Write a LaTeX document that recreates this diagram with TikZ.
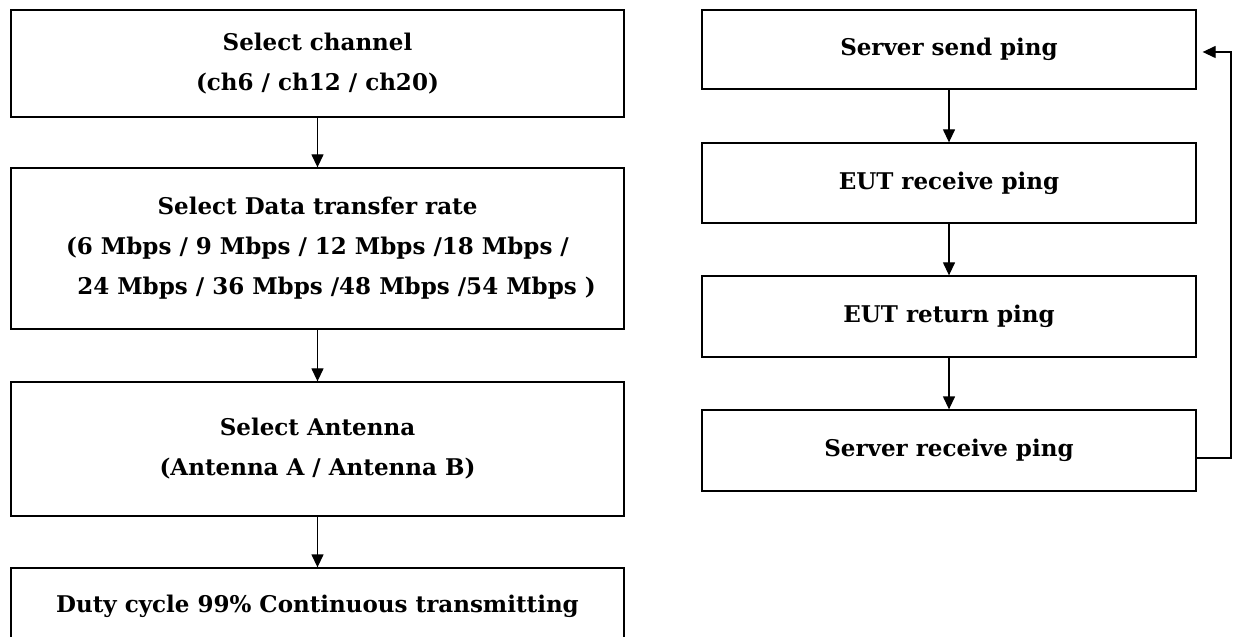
\documentclass[tikz,border=0pt]{standalone}
\usepackage{fontspec}
\setmainfont{DejaVu Serif}
\usetikzlibrary{arrows.meta,calc}
\begin{document}
\begin{tikzpicture}[x=1bp,y=-1bp,
  stepbox/.style={draw=black,line width=1.3bp,rectangle,inner sep=0pt,
    font=\bfseries\fontsize{23bp}{40bp}\selectfont,align=center},
  flow/.style={draw=black,line width=1.3bp,-{Triangle[length=13bp,width=12bp]}}]
  \useasboundingbox (0,0) rectangle (1236,637);
  \clip (0,0) rectangle (1236,637);
  \fill[white] (0,0) rectangle (1236,637);
  % transmit setup sequence
  \node[stepbox,minimum width=613bp,minimum height=107bp] (l1) at (317.5,63.5)
    {Select channel\\(ch6 / ch12 / ch20)};
  \node[stepbox,minimum width=613bp,minimum height=161bp] (l2) at (317.5,248.5)
    {Select Data transfer rate\\(6 Mbps / 9 Mbps / 12 Mbps /18 Mbps /\hspace*{13bp}\\\hspace*{38bp}24 Mbps / 36 Mbps /48 Mbps /54 Mbps )};
  \node[stepbox,minimum width=613bp,minimum height=134bp] (l3) at (317.5,449)
    {Select Antenna\\(Antenna A / Antenna B)};
  \node[stepbox,minimum width=613bp,minimum height=76bp] (l4) at (317.5,606)
    {Duty cycle 99\% Continuous transmitting};
  \draw[flow] (l1) -- (l2);
  \draw[flow] (l2) -- (l3);
  \draw[flow] (l3) -- (l4);
  % ping loop
  \node[stepbox,minimum width=494bp,minimum height=79bp] (r1) at (949,49.5) {Server send ping};
  \node[stepbox,minimum width=494bp,minimum height=80bp] (r2) at (949,183) {EUT receive ping};
  \node[stepbox,minimum width=494bp,minimum height=81bp] (r3) at (949,316.5) {EUT return ping};
  \node[stepbox,minimum width=494bp,minimum height=81bp] (r4) at (949,450.5) {Server receive ping};
  \draw[flow] (r1) -- (r2);
  \draw[flow] (r2) -- (r3);
  \draw[flow] (r3) -- (r4);
  \coordinate (loopout) at ([yshift=-7.5bp]r4.east);
  \coordinate (loopin) at ([xshift=6bp,yshift=-2.5bp]r1.east);
  \coordinate (loopx) at (1231,0);
  \draw[flow] (loopout) -| (loopx |- loopin) -- (loopin);
\end{tikzpicture}
\end{document}
